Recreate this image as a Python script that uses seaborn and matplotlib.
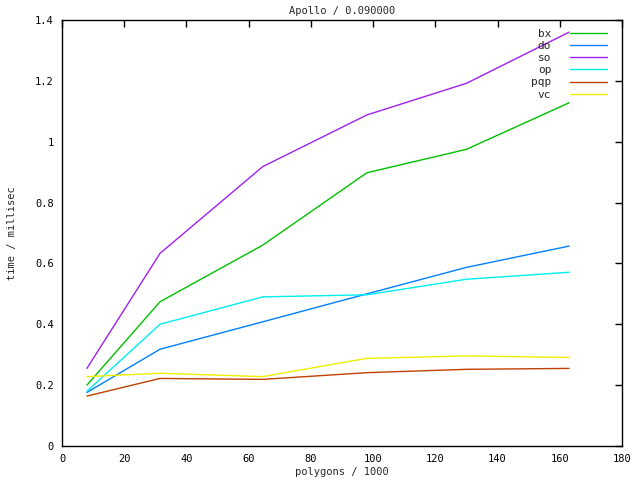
import pandas as pd
import matplotlib
matplotlib.use('Agg')
import matplotlib.pyplot as plt
import seaborn as sns

# polygons / 1000 on the x axis, time in millisec for each method
polygons = [8, 31.5, 64.5, 98, 130, 163]
bx = [0.20, 0.474, 0.66, 0.898, 0.975, 1.128]
do = [0.176, 0.318, 0.408, 0.50, 0.587, 0.657]
so = [0.255, 0.633, 0.918, 1.088, 1.192, 1.36]
op = [0.18, 0.40, 0.49, 0.497, 0.548, 0.571]
pqp = [0.164, 0.222, 0.219, 0.241, 0.252, 0.255]
vc = [0.228, 0.239, 0.228, 0.288, 0.296, 0.291]

methods = ['bx', 'do', 'so', 'op', 'pqp', 'vc']
colors = ['#00c000', '#0080ff', '#a020f0', '#00eeee', '#c04000', '#eeee00']

frames = []
for name, vals in zip(methods, [bx, do, so, op, pqp, vc]):
    frames.append(pd.DataFrame({'x': polygons, 'y': vals, 'method': name}))
df = pd.concat(frames)

sns.set_style('white')
plt.rcParams['font.family'] = ['DejaVu Sans Mono', 'DejaVu Sans']
plt.rcParams['font.size'] = 7.5

fig = plt.figure(figsize=(6.4, 4.8), dpi=100)
ax = fig.add_axes([62 / 640, 1 - 446 / 480, 560 / 640, 426 / 480])

sns.lineplot(data=df, x='x', y='y', hue='method', palette=colors,
             hue_order=methods, linewidth=1, ax=ax, legend=True)

ax.set_xlim(0, 180)
ax.set_ylim(0, 1.4)
ax.set_xticks(range(0, 181, 20))
ax.set_yticks([0, 0.2, 0.4, 0.6, 0.8, 1, 1.2, 1.4])
ax.set_yticklabels(['0', '0.2', '0.4', '0.6', '0.8', '1', '1.2', '1.4'])
ax.tick_params(direction='in', top=True, right=True, length=5, width=1,
               labelsize=7.5, colors='black', pad=6)
for sp in ax.spines.values():
    sp.set_visible(True)
    sp.set_color('black')
    sp.set_linewidth(1)

ax.set_title('Apollo / 0.090000', fontsize=7.5, pad=4)
ax.set_xlabel('polygons / 1000', fontsize=7.5, labelpad=2)
ax.set_ylabel('time / millisec', fontsize=7.5, labelpad=13)

leg = ax.legend(loc='upper right', bbox_to_anchor=(0.973, 0.980), frameon=False,
                markerfirst=False, handlelength=3.3, handletextpad=1.7,
                labelspacing=0.2, fontsize=8, borderaxespad=0, borderpad=0)

fig.savefig('out.png', dpi=100)
